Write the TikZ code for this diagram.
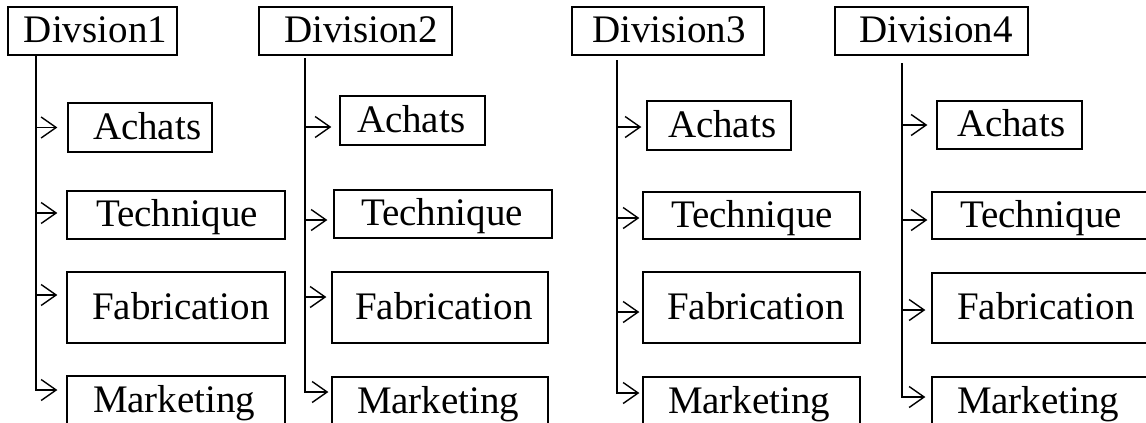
\documentclass[tikz,border=0pt]{standalone}
\usepackage{fontspec}
\setmainfont{Liberation Serif}
\usetikzlibrary{arrows.meta}

\tikzset{
  box/.style={draw, line width=1.3pt, inner sep=0pt, align=left,
    text height=23pt, text depth=0pt, font=\fontsize{39}{41}\selectfont},
  arr/.style={line width=1.4pt, line join=miter,
    -{Straight Barb[length=15pt,width=21pt,line width=1.4pt]}},
}

% \orgbox{name}{left}{top}{right}{bottom}{left pad}{text}
\newcommand\orgbox[7]{%
  \pgfmathsetmacro\obW{#4-#2}\pgfmathsetmacro\obH{#5-#3}%
  \pgfmathsetmacro\obX{(#2+#4)/2}\pgfmathsetmacro\obY{(#3+#5)/2}%
  \node[box, minimum height=\obH pt, text width=\obW pt] (#1) at (\obX,\obY) {\hspace*{#6pt}#7};}

% \branch{trunk}{box}{offset above box centre}{gap before box}
\newcommand\branch[4]{%
  \coordinate (#2x) at ([yshift=#3pt]#2.west);
  \draw[arr, shorten >=#4pt] (#1 |- #2x) -- (#2x);}

% \lastbranch{trunk}{box}{offset}{gap}: trunk bends into the last box
\newcommand\lastbranch[4]{%
  \coordinate (#2x) at ([yshift=#3pt]#2.west);
  \draw[arr, shorten >=#4pt] (#1) -- (#1 |- #2x) -- (#2x);}

\begin{document}
\begin{tikzpicture}[x=1pt, y=-1pt]
  \clip (0,0) rectangle (1146,423);
  \fill[white] (0,0) rectangle (1146,423);

  % column 1
  \orgbox{D1}{8}{7}{177}{55}{16}{Divsion1}
  \orgbox{A1}{68}{103}{212}{152}{25}{Achats}
  \orgbox{T1}{67}{191}{285}{239}{29}{Technique}
  \orgbox{F1}{67}{272}{285}{343}{25}{Fabrication}
  \orgbox{M1}{67}{376}{285}{426}{26}{Marketing}
  \coordinate (s1) at (36,55);
  \lastbranch{s1}{M1}{11}{9}
  \branch{s1}{A1}{0}{10}
  \branch{s1}{T1}{2}{9}
  \branch{s1}{F1}{12.5}{9}

  % column 2
  \orgbox{D2}{259}{7}{452}{55}{25}{Division2}
  \orgbox{A2}{340}{96}{485}{145}{17}{Achats}
  \orgbox{T2}{334}{190}{552}{238}{27}{Technique}
  \orgbox{F2}{332}{272}{548}{343}{23}{Fabrication}
  \orgbox{M2}{332}{377}{548}{426}{25}{Marketing}
  \coordinate (s2) at (305,58);
  \lastbranch{s2}{M2}{9.5}{3}
  \branch{s2}{A2}{-6.5}{8}
  \branch{s2}{T2}{-6}{6}
  \branch{s2}{F2}{10.5}{5}

  % column 3
  \orgbox{D3}{572}{7}{764}{55}{20}{Division3}
  \orgbox{A3}{647}{101}{791}{150}{21}{Achats}
  \orgbox{T3}{643}{192}{860}{239}{28}{Technique}
  \orgbox{F3}{643}{272}{860}{343}{24}{Fabrication}
  \orgbox{M3}{643}{377}{860}{426}{25}{Marketing}
  \coordinate (s3) at (617,60);
  \lastbranch{s3}{M3}{8.5}{3}
  \branch{s3}{A3}{-1.5}{5}
  \branch{s3}{T3}{-2.5}{3}
  \branch{s3}{F3}{-4.5}{3}

  % column 4
  \orgbox{D4}{835}{7}{1028}{55}{24}{Division4}
  \orgbox{A4}{937}{101}{1082}{149}{20}{Achats}
  \orgbox{T4}{932}{192}{1160}{239}{28}{Technique}
  \orgbox{F4}{932}{273}{1160}{343}{25}{Fabrication}
  \orgbox{M4}{932}{377}{1160}{426}{25}{Marketing}
  \coordinate (s4) at (902,63);
  \lastbranch{s4}{M4}{4.5}{6}
  \branch{s4}{A4}{0}{9}
  \branch{s4}{T4}{-4.5}{4}
  \branch{s4}{F4}{-2}{6}
\end{tikzpicture}
\end{document}
